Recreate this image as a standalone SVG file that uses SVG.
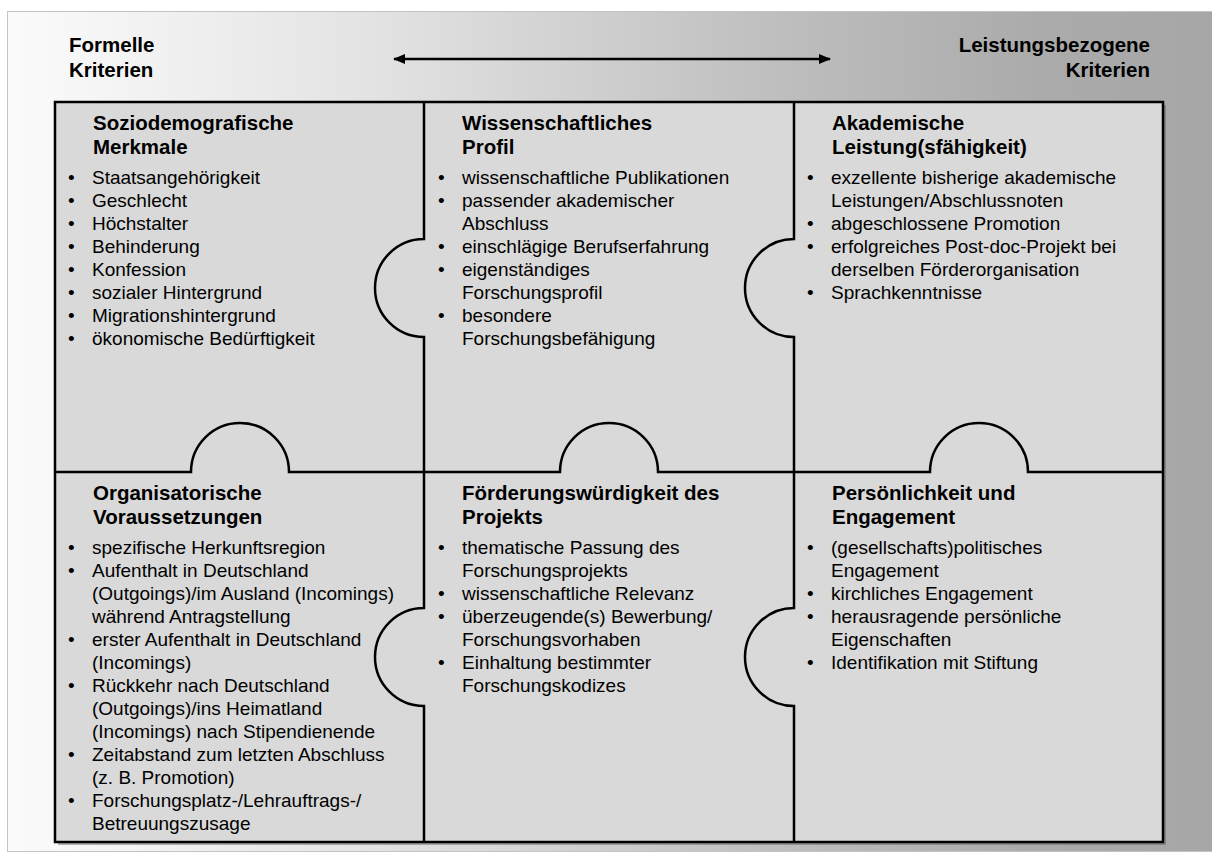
<svg xmlns="http://www.w3.org/2000/svg" width="1212" height="857" viewBox="0 0 1212 857">
<defs>
<linearGradient id="bg" x1="0" y1="0" x2="1" y2="0">
<stop offset="0" stop-color="#fbfbfb"/>
<stop offset="0.3" stop-color="#e3e3e3"/>
<stop offset="0.65" stop-color="#bdbdbd"/>
<stop offset="0.85" stop-color="#ababab"/>
<stop offset="1" stop-color="#a6a6a6"/>
</linearGradient>
<marker id="ah" viewBox="0 0 10 10" refX="9" refY="5" markerWidth="5" markerHeight="5" orient="auto-start-reverse" markerUnits="strokeWidth">
<path d="M0,1 L10,5 L0,9 Z" fill="#000"/>
</marker>
</defs>
<style>
.h{font-family:"Liberation Sans",Arial,sans-serif;font-weight:bold;font-size:20.5px;fill:#000}
.t{font-family:"Liberation Sans",Arial,sans-serif;font-weight:bold;font-size:20.5px;fill:#000}
.b{font-family:"Liberation Sans",Arial,sans-serif;font-size:19px;fill:#000}
.cell{fill:#d9d9d9}
.ln{fill:none;stroke:#000;stroke-width:2.5}
</style>
<rect x="7.5" y="11.5" width="1210" height="840" fill="url(#bg)" stroke="#c4c4c4" stroke-width="1"/>
<g id="header">
<text class="h" x="69" y="52">Formelle</text>
<text class="h" x="69" y="77">Kriterien</text>
<text class="h" x="1150" y="52" text-anchor="end">Leistungsbezogene</text>
<text class="h" x="1150" y="77" text-anchor="end">Kriterien</text>
</g>
<rect x="58" y="105" width="1108" height="740" fill="#5a5a5a" opacity="0.45"/>
<g id="cell1">
<rect class="cell" x="55" y="102" width="369" height="370"/>
<text class="t" x="93" y="130">Soziodemografische</text>
<text class="t" x="93" y="154">Merkmale</text>
<text class="b" x="68" y="184">•</text><text class="b" x="92" y="184">Staatsangehörigkeit</text>
<text class="b" x="68" y="207">•</text><text class="b" x="92" y="207">Geschlecht</text>
<text class="b" x="68" y="230">•</text><text class="b" x="92" y="230">Höchstalter</text>
<text class="b" x="68" y="253">•</text><text class="b" x="92" y="253">Behinderung</text>
<text class="b" x="68" y="276">•</text><text class="b" x="92" y="276">Konfession</text>
<text class="b" x="68" y="299">•</text><text class="b" x="92" y="299">sozialer Hintergrund</text>
<text class="b" x="68" y="322">•</text><text class="b" x="92" y="322">Migrationshintergrund</text>
<text class="b" x="68" y="345">•</text><text class="b" x="92" y="345">ökonomische Bedürftigkeit</text>
</g>
<g id="cell2">
<rect class="cell" x="424" y="102" width="370" height="370"/>
<text class="t" x="462" y="130">Wissenschaftliches</text>
<text class="t" x="462" y="154">Profil</text>
<text class="b" x="438" y="184">•</text><text class="b" x="462" y="184">wissenschaftliche Publikationen</text>
<text class="b" x="438" y="207">•</text><text class="b" x="462" y="207">passender akademischer</text>
<text class="b" x="462" y="230">Abschluss</text>
<text class="b" x="438" y="253">•</text><text class="b" x="462" y="253">einschlägige Berufserfahrung</text>
<text class="b" x="438" y="276">•</text><text class="b" x="462" y="276">eigenständiges</text>
<text class="b" x="462" y="299">Forschungsprofil</text>
<text class="b" x="438" y="322">•</text><text class="b" x="462" y="322">besondere</text>
<text class="b" x="462" y="345">Forschungsbefähigung</text>
</g>
<g id="cell3">
<rect class="cell" x="794" y="102" width="369" height="370"/>
<text class="t" x="832" y="130">Akademische</text>
<text class="t" x="832" y="154">Leistung(sfähigkeit)</text>
<text class="b" x="807" y="184">•</text><text class="b" x="831" y="184">exzellente bisherige akademische</text>
<text class="b" x="831" y="207">Leistungen/Abschlussnoten</text>
<text class="b" x="807" y="230">•</text><text class="b" x="831" y="230">abgeschlossene Promotion</text>
<text class="b" x="807" y="253">•</text><text class="b" x="831" y="253">erfolgreiches Post-doc-Projekt bei</text>
<text class="b" x="831" y="276">derselben Förderorganisation</text>
<text class="b" x="807" y="299">•</text><text class="b" x="831" y="299">Sprachkenntnisse</text>
</g>
<g id="cell4">
<rect class="cell" x="55" y="472" width="369" height="370"/>
<text class="t" x="93" y="500">Organisatorische</text>
<text class="t" x="93" y="524">Voraussetzungen</text>
<text class="b" x="68" y="554">•</text><text class="b" x="92" y="554">spezifische Herkunftsregion</text>
<text class="b" x="68" y="577">•</text><text class="b" x="92" y="577">Aufenthalt in Deutschland</text>
<text class="b" x="92" y="600">(Outgoings)/im Ausland (Incomings)</text>
<text class="b" x="92" y="623">während Antragstellung</text>
<text class="b" x="68" y="646">•</text><text class="b" x="92" y="646">erster Aufenthalt in Deutschland</text>
<text class="b" x="92" y="669">(Incomings)</text>
<text class="b" x="68" y="692">•</text><text class="b" x="92" y="692">Rückkehr nach Deutschland</text>
<text class="b" x="92" y="715">(Outgoings)/ins Heimatland</text>
<text class="b" x="92" y="738">(Incomings) nach Stipendienende</text>
<text class="b" x="68" y="761">•</text><text class="b" x="92" y="761">Zeitabstand zum letzten Abschluss</text>
<text class="b" x="92" y="784">(z. B. Promotion)</text>
<text class="b" x="68" y="807">•</text><text class="b" x="92" y="807">Forschungsplatz-/Lehrauftrags-/</text>
<text class="b" x="92" y="830">Betreuungszusage</text>
</g>
<g id="cell5">
<rect class="cell" x="424" y="472" width="370" height="370"/>
<text class="t" x="462" y="500">Förderungswürdigkeit des</text>
<text class="t" x="462" y="524">Projekts</text>
<text class="b" x="438" y="554">•</text><text class="b" x="462" y="554">thematische Passung des</text>
<text class="b" x="462" y="577">Forschungsprojekts</text>
<text class="b" x="438" y="600">•</text><text class="b" x="462" y="600">wissenschaftliche Relevanz</text>
<text class="b" x="438" y="623">•</text><text class="b" x="462" y="623">überzeugende(s) Bewerbung/</text>
<text class="b" x="462" y="646">Forschungsvorhaben</text>
<text class="b" x="438" y="669">•</text><text class="b" x="462" y="669">Einhaltung bestimmter</text>
<text class="b" x="462" y="692">Forschungskodizes</text>
</g>
<g id="cell6">
<rect class="cell" x="794" y="472" width="369" height="370"/>
<text class="t" x="832" y="500">Persönlichkeit und</text>
<text class="t" x="832" y="524">Engagement</text>
<text class="b" x="807" y="554">•</text><text class="b" x="831" y="554">(gesellschafts)politisches</text>
<text class="b" x="831" y="577">Engagement</text>
<text class="b" x="807" y="600">•</text><text class="b" x="831" y="600">kirchliches Engagement</text>
<text class="b" x="807" y="623">•</text><text class="b" x="831" y="623">herausragende persönliche</text>
<text class="b" x="831" y="646">Eigenschaften</text>
<text class="b" x="807" y="669">•</text><text class="b" x="831" y="669">Identifikation mit Stiftung</text>
</g>
<g id="connectors">
<rect class="ln" x="55" y="102" width="1108" height="740"/>
<path class="ln" d="M55,472 H191 A49,49 0 0 1 289,472 H560 A49,49 0 0 1 658,472 H930 A49,49 0 0 1 1028,472 H1163"/>
<path class="ln" d="M424,102 V239 A49,49 0 0 0 424,337 V608 A49,49 0 0 0 424,706 V842"/>
<path class="ln" d="M794,102 V239 A49,49 0 0 0 794,337 V608 A49,49 0 0 0 794,706 V842"/>
<line x1="394" y1="59" x2="830" y2="59" stroke="#000" stroke-width="2.5" marker-start="url(#ah)" marker-end="url(#ah)"/>
</g>
</svg>
